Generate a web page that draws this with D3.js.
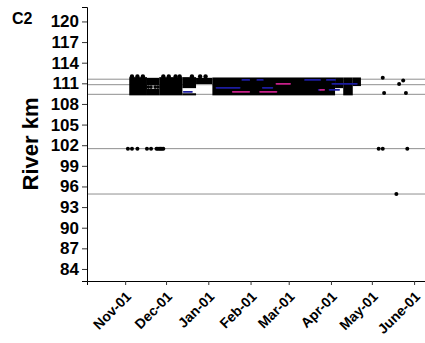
<!DOCTYPE html>
<html>
<head>
<meta charset="utf-8">
<script src="https://cdn.jsdelivr.net/npm/d3@7"></script>
<style>
  body { margin: 0; background: #fff; }
  text { font-family: Arial, "Liberation Sans", sans-serif; font-weight: bold; }
</style>
</head>
<body>
<svg width="425" height="343"></svg>
<script>
// station lines (river km)
var refKm = [111.6, 110.8, 109.4, 101.5, 94.9];

// y ticks
var yTicks = [84, 87, 90, 93, 96, 99, 102, 105, 108, 111, 114, 117, 120];

// x tick labels
var monthTicks = ["2020-11-01", "2020-12-01", "2021-01-01", "2021-02-01", "2021-03-01",
                  "2021-04-01", "2021-05-01", "2021-06-01"];
var monthLabels = ["Nov-01", "Dec-01", "Jan-01", "Feb-01", "Mar-01", "Apr-01", "May-01", "June-01"];

// dense detection periods: start, end, km low, km high
var bandSegments = [
    ["2020-11-04", "2020-11-17", 109.25, 111.9],
    ["2020-11-17", "2020-11-26", 110.7, 111.8],
    ["2020-11-17", "2020-11-26", 109.25, 110.2],
    ["2020-11-26", "2020-12-13", 109.25, 111.9],
    ["2020-12-13", "2020-12-23", 110.3, 111.9],
    ["2020-12-13", "2020-12-23", 109.25, 109.55],
    ["2020-12-23", "2021-01-04", 110.9, 111.8],
    ["2021-01-04", "2021-04-04", 109.25, 111.85],
    ["2021-04-04", "2021-04-10", 110.3, 111.85],
    ["2021-04-10", "2021-04-17", 109.25, 111.85],
    ["2021-04-17", "2021-04-23", 110.6, 111.85]
];

// points poking out of the top / middle of the early cluster
var topDates = ["2020-11-06", "2020-11-10", "2020-11-14", "2020-11-29",
                "2020-12-03", "2020-12-08", "2020-12-11", "2020-12-20",
                "2020-12-26", "2020-12-30"];
var midDates = ["2020-11-18", "2020-11-20", "2020-11-23", "2020-11-25"];

// single detections at lower stations
var km102Dates = ["2020-11-03", "2020-11-06", "2020-11-10", "2020-11-17", "2020-11-20",
                  "2020-11-24", "2020-11-25", "2020-11-26", "2020-11-27", "2020-11-28", "2020-11-29",
                  "2021-05-06", "2021-05-09", "2021-05-27"];
var km95Dates = ["2021-05-19"];

// late single detections near the upper stations
var lateDates = ["2021-05-09", "2021-05-21", "2021-05-24", "2021-05-10", "2021-05-26"];
var lateKm = [111.8, 110.9, 111.4, 109.6, 109.6];

// coloured tracks inside the band: start, end, km
var blueTracks = [
    ["2020-12-14", "2020-12-20", 109.76],
    ["2021-01-07", "2021-01-24", 110.35],
    ["2021-01-26", "2021-01-31", 111.5],
    ["2021-02-06", "2021-02-10", 111.5],
    ["2021-02-10", "2021-02-17", 110.35],
    ["2021-03-13", "2021-03-24", 111.5],
    ["2021-03-23", "2021-03-24", 110.06],
    ["2021-03-29", "2021-04-04", 111.5],
    ["2021-04-02", "2021-04-20", 110.93],
    ["2021-03-31", "2021-04-07", 110.06]
];
var magentaTracks = [
    ["2021-01-19", "2021-01-31", 109.76],
    ["2021-02-08", "2021-02-20", 109.76],
    ["2021-02-20", "2021-03-02", 110.93],
    ["2021-03-24", "2021-03-27", 110.06]
];

var svg = d3.select("svg"),
    margin = {top: 7, left: 87, bottom: 62},
    width = 425 - margin.left,
    height = 343 - margin.top - margin.bottom,
    g = svg.append("g").attr("transform", "translate(" + margin.left + "," + margin.top + ")");

var parse = d3.timeParse("%Y-%m-%d");

var x = d3.scaleTime()
    .domain([parse("2020-10-04"), parse("2021-06-09")])
    .range([0, width]);

var y = d3.scaleLinear()
    .domain([82.25, 122.1])
    .range([height, 0]);

// reference lines
g.selectAll(".ref")
    .data(refKm)
    .enter().append("line")
    .attr("x1", 0).attr("x2", width)
    .attr("y1", function(d) { return y(d); })
    .attr("y2", function(d) { return y(d); })
    .attr("stroke", "#8f8f8f")
    .attr("stroke-width", 1);

// dense band
g.selectAll(".band")
    .data(bandSegments)
    .enter().append("rect")
    .attr("x", function(d) { return x(parse(d[0])); })
    .attr("width", function(d) { return x(parse(d[1])) - x(parse(d[0])); })
    .attr("y", function(d) { return y(d[3]); })
    .attr("height", function(d) { return y(d[2]) - y(d[3]); })
    .attr("fill", "#000");

var dot = function(sel, dates, km, r) {
    sel.selectAll(null)
        .data(dates)
        .enter().append("circle")
        .attr("cx", function(d) { return x(parse(d)); })
        .attr("cy", function(d, i) { return y(Array.isArray(km) ? km[i] : km); })
        .attr("r", r)
        .attr("fill", "#000");
};
dot(g, topDates, 112.0, 2.2);
dot(g, midDates, 110.45, 1.8);

var track = function(sel, data, colour) {
    sel.selectAll(null)
        .data(data)
        .enter().append("line")
        .attr("x1", function(d) { return x(parse(d[0])); })
        .attr("x2", function(d) { return x(parse(d[1])); })
        .attr("y1", function(d) { return y(d[2]); })
        .attr("y2", function(d) { return y(d[2]); })
        .attr("stroke", colour)
        .attr("stroke-width", 1.8)
        .attr("stroke-linecap", "round");
};
track(g, blueTracks, "#1c1ca0");
track(g, magentaTracks, "#c8208a");

// single points
dot(g, km102Dates, 101.5, 2);
dot(g, km95Dates, 94.9, 2);
dot(g, lateDates, lateKm, 2);

// axes
var yAxis = g.append("g")
    .call(d3.axisLeft(y).tickValues(yTicks).tickSize(5).tickPadding(3));
yAxis.selectAll("text").attr("font-size", 17).attr("fill", "#000");
yAxis.select(".domain").attr("stroke", "#000");
yAxis.selectAll(".tick line").attr("stroke", "#333");

var xAxis = g.append("g")
    .attr("transform", "translate(0," + height + ")")
    .call(d3.axisBottom(x)
        .tickValues(monthTicks.map(parse))
        .tickSize(4)
        .tickFormat(function(d, i) { return monthLabels[i]; }));
xAxis.select(".domain").attr("stroke", "#000");
xAxis.selectAll(".tick line").attr("stroke", "#333");
xAxis.selectAll("text")
    .attr("font-size", 14)
    .attr("fill", "#000")
    .attr("text-anchor", "end")
    .attr("dy", "0.35em")
    .attr("transform", "translate(-2,8) rotate(-45)");

// labels
svg.append("text")
    .attr("transform", "translate(38," + (margin.top + height / 2) + ") rotate(-90)")
    .attr("text-anchor", "middle")
    .attr("font-size", 22)
    .text("River km");

svg.append("text")
    .attr("x", 12)
    .attr("y", 24)
    .attr("font-size", 16)
    .text("C2");
</script>
</body>
</html>
